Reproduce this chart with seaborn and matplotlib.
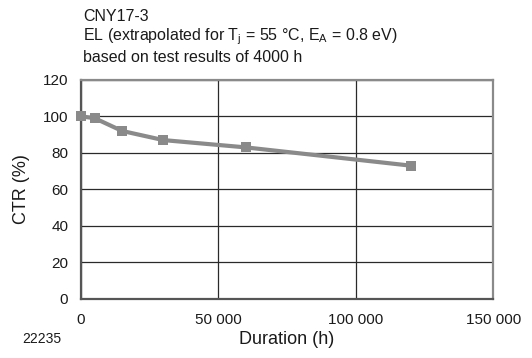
import matplotlib
matplotlib.use("Agg")
import matplotlib.pyplot as plt
import seaborn as sns
import pandas as pd

duration_h = [0, 5000, 15000, 30000, 60000, 120000]
ctr_pct = [100, 99, 92, 87, 83, 73]
x_ticks = [0, 50000, 100000, 150000]
x_tick_labels = ["0", "50 000", "100 000", "150 000"]
y_ticks = [0, 20, 40, 60, 80, 100, 120]

sns.set_theme(style="white")
plt.rcParams["font.family"] = ["Liberation Sans", "DejaVu Sans"]

df = pd.DataFrame({"Duration (h)": duration_h, "CTR (%)": ctr_pct})

fig = plt.figure(figsize=(5.32, 3.58), dpi=100)
ax = fig.add_axes([0.152, 0.165, 0.775, 0.612])

sns.lineplot(data=df, x="Duration (h)", y="CTR (%)", ax=ax, color="#8a8a8a",
             linewidth=3, marker="s", markersize=7, markeredgewidth=0,
             zorder=5, clip_on=False)

ax.set_xlim(0, 150000)
ax.set_ylim(0, 120)
ax.set_xticks(x_ticks)
ax.set_xticklabels(x_tick_labels)
ax.set_yticks(y_ticks)
ax.tick_params(axis="both", length=0, labelsize=11, colors="#1a1a1a")
ax.tick_params(axis="x", pad=10)
ax.tick_params(axis="y", pad=9)

ax.grid(True, color="#2a2a2a", linewidth=0.9)
for side in ("left", "bottom"):
    ax.spines[side].set_color("#555555")
    ax.spines[side].set_linewidth(1.6)
for side in ("right", "top"):
    ax.spines[side].set_color("#8a8a8a")
    ax.spines[side].set_linewidth(1.6)

ax.set_xlabel("Duration (h)", fontsize=13, color="#1a1a1a", labelpad=3)
ax.set_ylabel("CTR (%)", fontsize=13, color="#1a1a1a", labelpad=9)

title_kw = dict(fontsize=11.5, color="#1a1a1a", va="center")
fig.text(0.156, 0.953, "CNY17-3", **title_kw)
fig.text(0.156, 0.897,
         r"EL (extrapolated for T$_\mathregular{j}$ = 55 °C, E$_\mathregular{A}$ = 0.8 eV)",
         **title_kw)
fig.text(0.156, 0.838, "based on test results of 4000 h", **title_kw)
fig.text(0.042, 0.053, "22235", fontsize=10, color="#1a1a1a", va="center")

fig.savefig("out.png", dpi=100)
